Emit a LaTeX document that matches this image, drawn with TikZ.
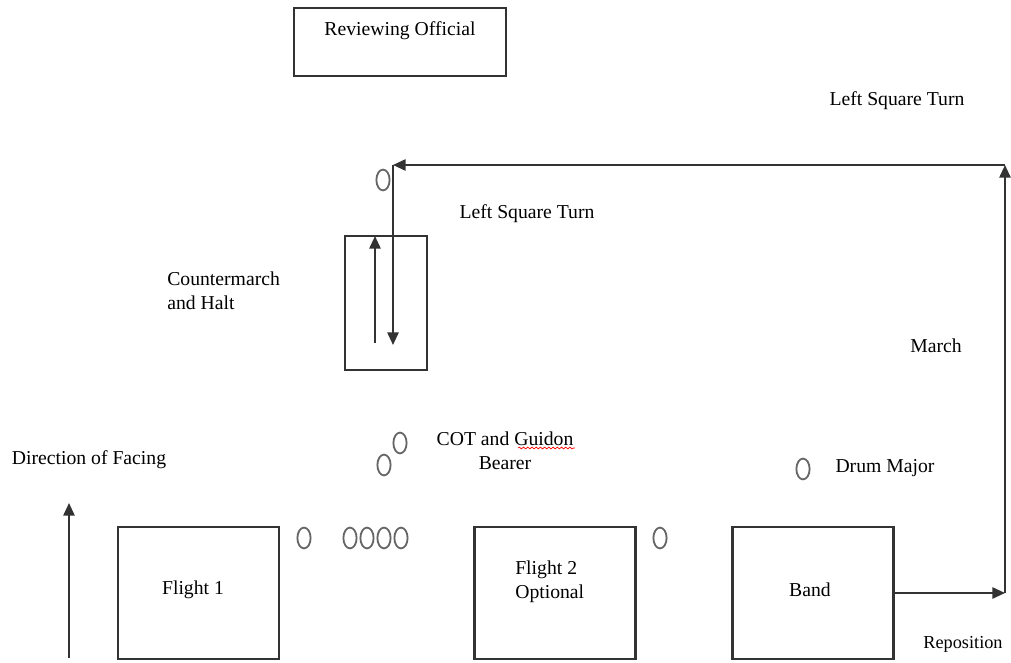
\documentclass[tikz,border=0pt]{standalone}
\usepackage{fontspec}
\setmainfont{Liberation Serif}
\usetikzlibrary{arrows.meta,shapes.geometric,decorations.pathmorphing}
\begin{document}
\begin{tikzpicture}[x=0.025cm, y=-0.025cm,
        every node/.style={font=\fontsize{14}{17}\selectfont, inner sep=0pt},
        box/.style={draw=black!80, line width=1.5pt, minimum width=4.025cm, minimum height=3.3cm},
        man/.style={ellipse, draw=black!60, line width=1.3pt, minimum width=0.33cm, minimum height=0.52cm},
        path/.style={draw=black!80, line width=1.4pt, -{Triangle[length=9pt, width=8pt]}}]
        \useasboundingbox (0,0) rectangle (1011,663);
        % boxes
        \node[box, minimum width=5.3cm, minimum height=1.7cm] (review) at (400,42) {};
        \node (reviewtxt) at (400,31) {Reviewing Official};
        \node[box, minimum width=2.05cm, minimum height=3.35cm] (cmbox) at (386,303) {};
        \node[box] (flight1) at (198.5,593) {};
        \node (flight1txt) at (193,590) {Flight 1};
        \node[box] (flight2) at (555,593) {};
        \node[align=left, anchor=west] (flight2txt) at (515,582) {Flight 2\\Optional};
        \node[box] (band) at (813,593) {};
        \node (bandtxt) at (810,590) {Band};
        % people
        \node[man] (guide) at (383,180) {};
        \node[man] (cot1) at (400,443) {};
        \node[man] (cot2) at (384,465) {};
        \node[man] (drum) at (803,469) {};
        \node[man] (p1) at (304,538) {};
        \node[man] (p2) at (350,538) {};
        \node[man] (p3) at (367,538) {};
        \node[man] (p4) at (384,538) {};
        \node[man] (p5) at (401,538) {};
        \node[man] (p6) at (660,538) {};
        % labels
        \node (turn1) at (897,101) {Left Square Turn};
        \node (turn2) at (527,214) {Left Square Turn};
        \node[align=left, anchor=west] (counter) at (167,291) {Countermarch\\and Halt};
        \node (march) at (936,346) {March};
        \node[align=center] (cot) at (505,451) {COT and Guidon\\Bearer};
        \node (facing) at (89,460) {Direction of Facing};
        \node (drumtxt) at (885,468) {Drum Major};
        \node[font=\fontsize{13}{15}\selectfont] (repos) at (963,644) {Reposition};
        % route
        \coordinate (corner1) at (1005,593);
        \coordinate (corner2) at (1005,165);
        \coordinate (turnin) at (393,165);
        \coordinate (halt) at (393,345);
        \coordinate (upfrom) at (375,343);
        \coordinate (upto) at (375,236);
        \coordinate (facefrom) at (69,658);
        \coordinate (faceto) at (69,503);
        \draw[path] (band.east) -- (corner1);
        \draw[path] (corner1) -- (corner2);
        \draw[path] (corner2) -- (turnin);
        \draw[path] (turnin) -- (halt);
        \draw[path] (upfrom) -- (upto);
        \draw[path] (facefrom) -- (faceto);
        % spell check mark
        \coordinate (sp1) at (518,448);
        \coordinate (sp2) at (575,448);
        \draw[red, line width=0.5pt, decorate, decoration={snake, amplitude=0.6pt, segment length=3pt}] (sp1) -- (sp2);
    \end{tikzpicture}
\end{document}
